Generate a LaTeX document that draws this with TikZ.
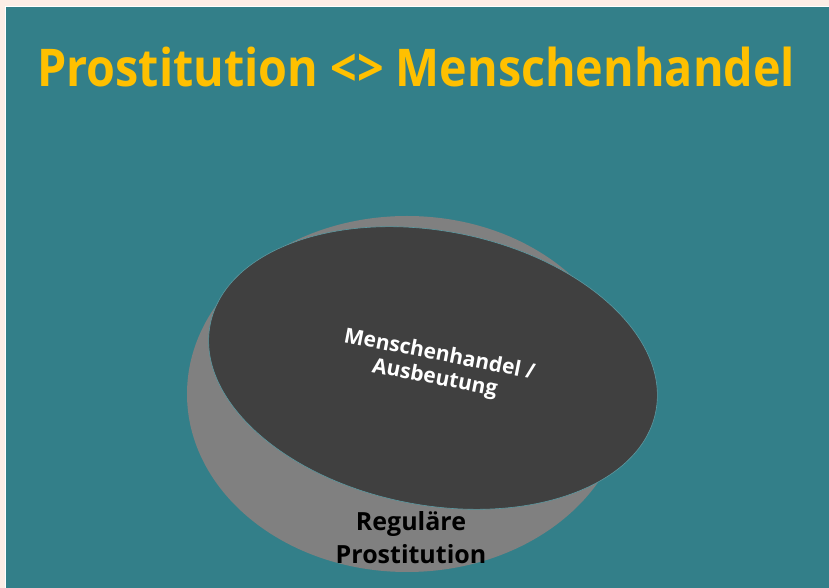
\documentclass[tikz,border=0pt]{standalone}
\usepackage{fontspec}
\setmainfont{Open Sans}
\definecolor{bgteal}{HTML}{337F89}
\definecolor{edge}{HTML}{FCEDE6}
\definecolor{titley}{HTML}{FFC000}
\definecolor{lgray}{HTML}{808080}
\definecolor{dgray}{HTML}{404040}
\tikzset{
  titletext/.style={text=titley,font=\fontsize{52}{60}\selectfont\bfseries,inner sep=0pt,anchor=base west},
  innertext/.style={text=white,font=\fontsize{21}{24}\selectfont\bfseries,align=center,inner sep=0pt},
  outertext/.style={text=black,font=\fontsize{25}{33}\selectfont\bfseries,align=center,inner sep=0pt}
}
\begin{document}
\begin{tikzpicture}[x=1pt,y=1pt]
\useasboundingbox (0,0) rectangle (829,588);
\fill[edge] (0,0) rectangle (829,588);
\fill[white] (5,0) rectangle (829,582);
\fill[bgteal] (6,0) rectangle (829,581);
\node[titletext] (title) at (37,501) {\resizebox{758pt}{\height}{Prostitution <> Menschenhandel}};
\fill[lgray] (407,194) ellipse [x radius=220, y radius=178];
\node[outertext] (outer) at (411,50) {Reguläre\\Prostitution};
\filldraw[fill=dgray,draw=bgteal!80!white,line width=0.6pt,rotate around={-11:(433,220)}] (433,220) ellipse [x radius=227, y radius=137];
\node[innertext,rotate=-11] (inner) at (437,221) {Menschenhandel /\\Ausbeutung};
\end{tikzpicture}
\end{document}
